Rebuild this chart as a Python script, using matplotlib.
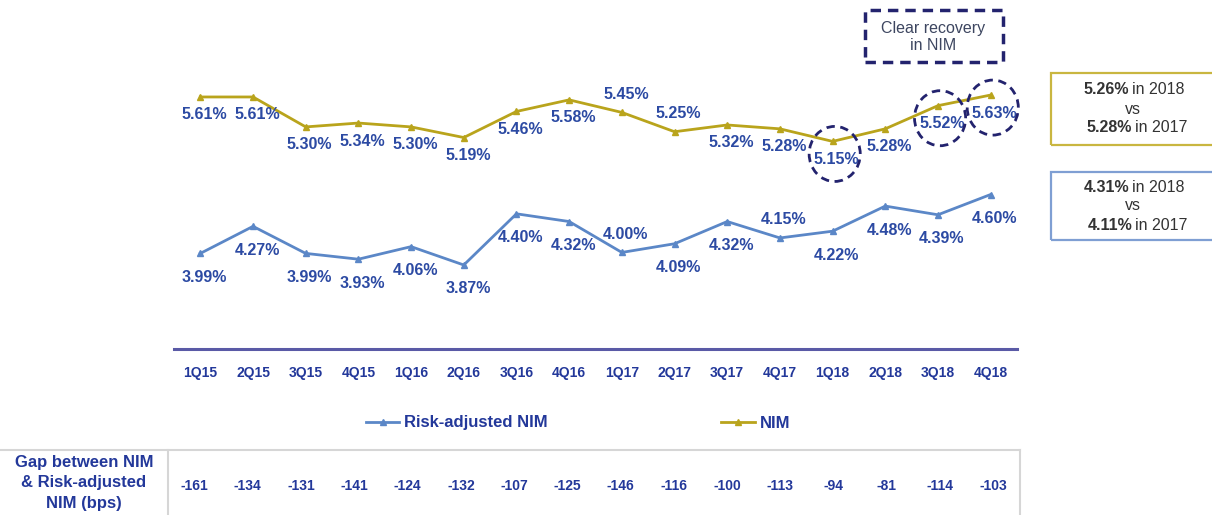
import matplotlib.pyplot as plt
from matplotlib.patches import Ellipse, Rectangle
from matplotlib.lines import Line2D

plt.rcParams['font.family'] = ['Liberation Sans', 'DejaVu Sans']

# data
quarters = ['1Q15', '2Q15', '3Q15', '4Q15', '1Q16', '2Q16', '3Q16', '4Q16',
            '1Q17', '2Q17', '3Q17', '4Q17', '1Q18', '2Q18', '3Q18', '4Q18']
nim = [5.61, 5.61, 5.30, 5.34, 5.30, 5.19, 5.46, 5.58,
       5.45, 5.25, 5.32, 5.28, 5.15, 5.28, 5.52, 5.63]
risk_adj_nim = [3.99, 4.27, 3.99, 3.93, 4.06, 3.87, 4.40, 4.32,
                4.00, 4.09, 4.32, 4.15, 4.22, 4.48, 4.39, 4.60]
gap_bps = [-161, -134, -131, -141, -124, -132, -107, -125,
           -146, -116, -100, -113, -94, -81, -114, -103]
# quarters whose labels sit above the point
nim_above = ['1Q17', '2Q17']
ra_above = ['1Q17', '4Q17']
highlight = ['1Q18', '3Q18', '4Q18']

GOLD = '#b9a41c'
STEEL = '#5b87c7'
LABEL_BLUE = '#2c4aa3'
DARK_BLUE = '#23389a'
NAVY = '#23236e'
W, H = 1212, 515

fig = plt.figure(figsize=(W / 100, H / 100), dpi=100)


def fx(px):
    return px / W


def fy(py):
    return 1 - py / H


ax = fig.add_axes([fx(174), fy(349), fx(1017) - fx(174), fy(40) - fy(349)])
x = list(range(len(quarters)))

ax.plot(x, nim, color=GOLD, lw=2.0, marker='^', ms=4.5, zorder=3)
ax.plot(x, risk_adj_nim, color=STEEL, lw=2.0, marker='^', ms=4.5, zorder=3)

for i, q in enumerate(quarters):
    dy = 18 if q in nim_above else -18
    ax.annotate(f'{nim[i]:.2f}%', (i, nim[i]), xytext=(4, dy), textcoords='offset pixels',
                ha='center', va='center', fontsize=11.5, fontweight='bold', color=LABEL_BLUE)
    dy = 18 if q in ra_above else -24
    ax.annotate(f'{risk_adj_nim[i]:.2f}%', (i, risk_adj_nim[i]), xytext=(4, dy),
                textcoords='offset pixels', ha='center', va='center',
                fontsize=11.5, fontweight='bold', color=LABEL_BLUE)

# dashed circles on the recovery quarters
for q in highlight:
    i = quarters.index(q)
    ax.add_patch(Ellipse((i + 0.04, nim[i] - 0.13), 0.97, 0.57, fill=False,
                         ec=NAVY, lw=2, ls=(0, (3, 2)), zorder=4, clip_on=False))

ax.set_xlim(-0.5, len(quarters) - 0.5)
ax.set_ylim(3.0, 6.2)
ax.set_xticks(x)
ax.set_xticklabels(quarters, fontsize=10, fontweight='bold', color=DARK_BLUE)
ax.tick_params(axis='x', length=0, pad=12)
ax.set_yticks([])
for s in ['top', 'left', 'right']:
    ax.spines[s].set_visible(False)
ax.spines['bottom'].set_color('#5a5aa6')
ax.spines['bottom'].set_linewidth(2.2)

# legend
handles = [Line2D([], [], color=STEEL, lw=2, marker='^', ms=4),
           Line2D([], [], color=GOLD, lw=2, marker='^', ms=4)]
leg = fig.legend(handles, ['Risk-adjusted NIM', 'NIM'], loc='center',
                 bbox_to_anchor=(fx(578), fy(423)), ncol=2, frameon=False,
                 handlelength=2.0, columnspacing=10.4, handletextpad=0.3,
                 prop={'weight': 'bold', 'size': 12})
for t in leg.get_texts():
    t.set_color(DARK_BLUE)

# "Clear recovery" callout
fig.patches.append(Rectangle((fx(865), fy(62)), fx(138), fy(10) - fy(62), transform=fig.transFigure,
                             fill=False, ec=NAVY, lw=2.5, ls=(0, (3, 2))))
fig.text(fx(933), fy(37), 'Clear recovery\nin NIM', ha='center', va='center',
         fontsize=11.5, color='#3d4660', linespacing=1.1)

# yearly average boxes
boxes = [(73, 145, '#c9b640', '5.26%', '5.28%'),
         (172, 240, '#7f9fd3', '4.31%', '4.11%')]
for top, bottom, ec, v18, v17 in boxes:
    fig.patches.append(Rectangle((fx(1051), fy(bottom)), fx(170), fy(top) - fy(bottom),
                                 transform=fig.transFigure, fill=False, ec=ec, lw=1.6))
    mid = (top + bottom) / 2
    fig.text(fx(1129), fy(mid - 19), v18, ha='right', va='center', fontsize=11.5,
             fontweight='bold', color='#333333')
    fig.text(fx(1132), fy(mid - 19), 'in 2018', ha='left', va='center', fontsize=11.5,
             color='#333333')
    fig.text(fx(1133), fy(mid), 'vs', ha='center', va='center', fontsize=11.5, color='#333333')
    fig.text(fx(1132), fy(mid + 19), v17, ha='right', va='center', fontsize=11.5,
             fontweight='bold', color='#333333')
    fig.text(fx(1135), fy(mid + 19), 'in 2017', ha='left', va='center', fontsize=11.5,
             color='#333333')

# gap table at the bottom
grid = '#d6d6d6'
tbl_left, tbl_right = 168, 1020
fig.add_artist(Line2D([0, fx(tbl_right)], [fy(450), fy(450)], transform=fig.transFigure, color=grid, lw=1.5))
fig.add_artist(Line2D([fx(tbl_left), fx(tbl_left)], [fy(450), 0], transform=fig.transFigure, color=grid, lw=1.5))
fig.add_artist(Line2D([fx(tbl_right), fx(tbl_right)], [fy(450), 0], transform=fig.transFigure, color=grid, lw=1.5))
fig.text(fx(84), fy(483), 'Gap between NIM\n& Risk-adjusted\nNIM (bps)', ha='center', va='center',
         fontsize=12, fontweight='bold', color=DARK_BLUE, linespacing=1.45)
col_w = (tbl_right - tbl_left) / len(gap_bps)
for i, g in enumerate(gap_bps):
    fig.text(fx(tbl_left + col_w * (i + 0.5)), fy(486), str(g), ha='center', va='center',
             fontsize=10, fontweight='bold', color=DARK_BLUE)

fig.savefig('out.png', dpi=100)
